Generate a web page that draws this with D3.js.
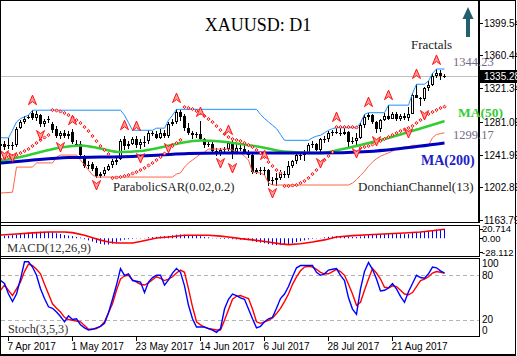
<!DOCTYPE html>
<html><head><meta charset="utf-8">
<script src="https://cdn.jsdelivr.net/npm/d3@7"></script>
<style>
html,body{margin:0;padding:0;background:#fff;}
svg{display:block;}
</style></head><body>
<svg id="c" width="517" height="356"></svg>
<script>
// ---------- DATA ----------
const startIndex = -2; // first bar index (bar 0 = 7 Apr 2017)
const opens = [1252,1255,1252,1254,1253,1274,1281,1286,1292,1286,1289,1279,
1283,1278,1272,1264,1268,1264,1269,1254,1255,1240,
1228,1231,1226,1216,1219,1224,1229,1233,1237,1260,
1252,1255,1261,1253,1257,1258,1268,1267,1262,1268,
1264,1279,1281,1293,1288,1274,1268,1265,1267,1261,
1254,1255,1246,1243,1247,1249,1256,1245,1250,1249,
1245,1242,1221,1224,1222,1224,1210,1212,1214,1219,
1217,1228,1234,1241,1242,1244,1254,1255,1248,1259,
1260,1268,1269,1268,1267,1269,1257,1258,1262,1277,
1287,1289,1281,1272,1283,1288,1285,1291,1284,1288,
1286,1291,1313,1310,1308,1321,1325,1336,1339,1336];
const highs = [1258,1258,1262,1257,1275,1283,1288,1289,1295,1294,1291,1285,
1288,1281,1276,1270,1271,1270,1272,1259,1258,1242,
1234,1233,1228,1221,1227,1231,1237,1238,1261,1264,
1258,1263,1264,1260,1264,1271,1270,1270,1272,1271,
1281,1285,1296,1295,1291,1280,1270,1269,1282,1262,
1257,1258,1250,1250,1251,1258,1259,1256,1256,1256,
1248,1243,1226,1227,1227,1225,1215,1220,1223,1222,
1234,1236,1244,1243,1247,1256,1258,1256,1262,1264,
1270,1271,1274,1274,1274,1270,1263,1268,1280,1290,
1292,1290,1282,1284,1292,1301,1293,1293,1291,1292,
1299,1315,1326,1311,1323,1330,1339,1344.23,1343,1338];
const lows = [1247,1248,1249,1248,1251,1272,1279,1285,1283,1282,1275,1275,
1280,1268,1262,1261,1262,1261,1255,1251,1238,1226,
1225,1222,1214,1214,1216,1222,1226,1230,1235,1248,
1249,1253,1250,1249,1251,1255,1264,1260,1260,1262,
1262,1276,1279,1282,1270,1265,1261,1262,1259,1250,
1251,1244,1240,1240,1243,1246,1237,1243,1246,1244,
1238,1219,1219,1218,1217,1205,1206,1205,1212,1214,
1214,1226,1231,1236,1234,1243,1250,1246,1245,1256,
1257,1264,1266,1264,1265,1251,1255,1252,1261,1274,
1283,1278,1268,1269,1282,1283,1284,1282,1282,1283,
1282,1290,1309,1300,1306,1318,1324,1333,1331,1333];
const closes = [1255,1251,1254,1253,1273,1281,1285,1287,1286,1290,1279,1282,
1285,1271,1264,1268,1264,1267,1257,1255,1241,1228,
1230,1225,1216,1219,1224,1228,1234,1236,1258,1252,
1255,1261,1253,1257,1256,1268,1267,1262,1268,1264,
1279,1281,1293,1287,1274,1268,1265,1267,1261,1254,
1255,1246,1243,1247,1249,1256,1245,1250,1249,1245,
1242,1221,1224,1222,1224,1210,1212,1214,1219,1217,
1228,1234,1241,1242,1244,1254,1255,1248,1260,1261,
1268,1269,1268,1267,1269,1257,1258,1262,1277,1287,
1289,1281,1272,1283,1288,1285,1291,1284,1288,1286,
1291,1313,1310,1308,1321,1325,1336,1339,1336,1335.28];

const lastPrice = 1335.28;

// Moving averages (bar index, value)
const ma50 = [[-2,1234.2],[3,1239],[8,1245],[13,1250.4],[16,1252.2],[18,1252.8],[21,1251],[23,1249.2],[28,1245],[33,1246.2],[38,1250.4],[43,1255.8],[48,1258.7],[53,1257.5],[58,1254.6],[63,1251],[68,1246.2],[73,1244.4],[78,1243.8],[83,1248],[88,1253.4],[93,1259.3],[98,1265.9],[103,1273.1],[109,1282]];
const ma200 = [[-2,1231.9],[5,1234.8],[15,1238.4],[23,1239],[31,1239.6],[38,1241.4],[45,1243.2],[53,1243.8],[63,1243.8],[77,1243.8],[90,1245.6],[98,1249.2],[109,1255.8]];

// Donchian channel (13)
const donchUpper = [[-2,1262],[0,1262],[1,1271],[2,1281],[3,1285],[4,1287],[5,1289],[6,1295],[28,1295],[29,1289],[30,1280],[31,1271],[36,1271],[37,1273.5],[39,1273.5],[40,1283],[41,1289],[42,1296],[62,1296],[63,1290],[64,1285],[65,1281],[66,1277],[67,1273],[68,1266],[69,1259],[75,1259],[76,1262],[77,1264],[78,1265],[79,1268],[80,1271],[81,1273],[82,1274],[87,1274],[88,1280],[89,1290],[90,1292],[94,1292],[95,1301],[100,1301],[101,1315],[102,1326],[104,1326],[105,1330],[106,1339],[107,1344.23],[109,1344.23]];
const donchLower = [[-2,1196],[1,1197],[2,1227],[6,1227],[7,1232],[11,1232],[12,1239],[13,1241.4],[17,1241.4],[18,1235.4],[19,1229.5],[20,1223.5],[21,1217.5],[22,1215.1],[41,1215.1],[42,1218.7],[43,1220],[44,1227],[45,1232],[46,1235.4],[47,1239],[48,1242.6],[49,1245],[50,1248.5],[55,1248.5],[56,1247.4],[57,1245],[58,1243.8],[59,1240.2],[60,1235.4],[61,1221],[63,1220],[64,1217.5],[65,1208],[66,1205.6],[85,1205.6],[86,1208],[87,1212],[88,1217],[89,1222],[90,1228],[91,1233],[92,1237],[93,1240],[94,1242],[95,1244],[96,1246],[97,1249],[98,1250],[99,1251],[100,1251],[101,1253],[105,1253],[106,1262],[107,1266],[108,1267],[109,1268]];

// Parabolic SAR (one value per bar from startIndex)
const sar = [1236.6,1237.8,1239.0,1240.2,1241.4,1243.8,1246.2,1248.6,1252.2,1255.8,1259.3,1262.3,
1265.3,1295.2,1294.6,1293.4,1291.6,1289.2,1286.2,1283.2,1279.7,1274.9,
1270.1,1264.1,1258.1,1252.2,1247.4,1242.6,1213.9,1214.5,1215.1,1216.3,
1217.5,1219.3,1221.1,1223.5,1225.9,1228.9,1231.9,1235.4,1239.0,1243.2,
1247.4,1252.2,1255.8,1259.3,1298.8,1297.6,1296.4,1294.0,1291.6,1288.0,
1284.4,1280.8,1276.1,1271.3,1266.5,1262.9,1260.5,1259.3,1258.1,1255.8,
1253.4,1251.0,1247.4,1243.8,1239.0,1233.1,1228.3,1223.5,1219.9,1204.4,
1204.4,1205.0,1205.6,1208.0,1210.4,1213.9,1218.7,1223.5,1230.7,1235.4,
1240.2,1245.0,1274.9,1274.9,1274.9,1274.9,1274.9,1274.3,1249.8,1251.0,
1252.2,1254.0,1255.8,1258.1,1260.5,1262.9,1265.3,1267.7,1270.1,1271.9,
1273.7,1276.1,1279.7,1283.2,1286.8,1290.4,1292.8,1295.2,1297.6,1299.17];

// Fractals
const fractalUpIdx = [6,16,29,32,42,48,55,64,82,90,95,102,107];
const fractalUpVal = [1307,1283,1277,1276,1309.5,1292.8,1271.3,1241.4,1286.8,1304.7,1313,1338.2,1355];
const fractalDownIdx = [-1,1,8,13,22,33,40,53,56,66,78,87,92,100,104];
const fractalDownVal = [1241.4,1239,1265.3,1251,1205.6,1237.8,1249.8,1231.9,1225.9,1196,1231.9,1243.8,1258.1,1267.7,1289.2];

// MACD (12,26,9): main as histogram (per bar), signal line points
const macdMain = [4.5,5,5.5,6.5,7.5,9.5,10.5,12,13,13.5,14,14,
13.5,12.5,10.5,9,7,5.5,4.5,3,1.5,-2,
-4.5,-7,-10,-12,-13.5,-13.5,-11.5,-9,-5,-3,
-2,-1.2,-0.6,-0.6,0.6,2,2.5,3,3.8,4.4,
5,6.2,7.5,8,7.5,7,6.2,5,4.4,3,
2,0.6,-0.6,-1.2,-1.5,-1.2,-2,-2.5,-3,-3.5,
-4,-6.2,-8,-9.4,-10.5,-12.5,-13.8,-14.5,-14.5,-13.8,
-12.5,-10.5,-8,-6.2,-4.4,-2.5,-1.2,-0.6,0.6,2,
3,3.8,4.4,4.4,4.4,3,2.5,2.5,3.8,5.6,
7.5,8,7.5,8,8.8,9.4,9.4,8.8,8.8,8.8,
8.8,11,13,14,15,16,17.5,18.5,19.2,20];
const macdSignal = [[-2,7],[2,9],[6,11.5],[10,13.2],[14,13.4],[16,12],[19,6.4],[21,1],[23,-4],[25,-8],[27,-10],[31,-10],[33,-7],[35,-3],[37,0.5],[40,2.8],[44,6.4],[50,6.4],[53,4.5],[55,2.8],[58,-0.8],[61,-3.5],[65,-7.9],[68,-12],[70,-13.6],[73,-11.8],[76,-8],[79,-3.5],[82,2.8],[86,5.5],[90,7.6],[95,9.5],[99,11.3],[103,13.4],[107,17],[109,19]];

// Stochastic (3,5,3)
const stochMain = [73,69,55,45,55,75,98,98,91,80,62,49,
38,36,31,25,18,26,21,22,14,10,
7,8,10,12,16,30,48,67,89,80,
82,73,72,71,57,71,77,80,80,67,
74,83,89,84,66,40,22,11,11,11,
9,7,4,9,35,48,55,53,50,48,
35,22,10,12,18,22,24,36,49,55,
65,78,90,93,93,93,93,84,80,82,
87,88,89,80,73,50,35,28,62,85,
97,88,75,59,60,63,69,62,52,44,
58,69,80,77,76,82,91,90,86,83];
const stochSignal = [60,67,60,53,62,71,85,95,93,88,82,68,
55,42,36,31,24,21,20,19,18,13,
8,8,9,12,18,30,42,60,75,79,
80,74,71,68,67,70,74,78,76,73,
75,78,83,87,84,62,38,18,14,11,
9,8,7,7,20,34,48,52,53,51,
49,35,18,16,18,20,23,29,36,45,
55,68,78,86,91,92,91,88,84,82,
82,85,88,85,80,68,55,40,44,60,
75,89,83,75,64,63,66,65,60,55,
54,57,65,73,75,78,83,85,84,83];

// Axis ticks
const dateTickIdx = [0,16,32,48,64,80,96];
const dateTickLabels = ["7 Apr 2017","1 May 2017","23 May 2017","14 Jun 2017","6 Jul 2017","28 Jul 2017","21 Aug 2017"];
const priceTicks = [1399.54,1360.44,1321.34,1281.09,1241.99,1202.89,1163.79];
const macdTicks = [20.714,0,-28.112];
const macdTickLabels = ["20.714","0.00","-28.112"];
const stochTicks = [100,80,20,0];
const stochLevels = [80,20];

// ---------- DRAW ----------
const svg = d3.select("#c");
const x = d3.scaleLinear().domain([0,96]).range([8,392]);
const yP = d3.scaleLinear().domain([1163.79,1399.54]).range([220,22.7]);
const yM = d3.scaleLinear().domain([-28.112,20.714]).range([251.5,228.5]);
const yS = d3.scaleLinear().domain([0,100]).range([335.3,260.3]);
const AX = 479; // right axis line
const serif = "'Liberation Serif','Times New Roman',serif";
const sans = "'Liberation Sans',Arial,sans-serif";

svg.append("rect").attr("width",517).attr("height",356).attr("fill","#fff");

const defs = svg.append("defs");
defs.append("clipPath").attr("id","cpMain").append("rect").attr("x",1).attr("y",1).attr("width",AX-1).attr("height",221);
defs.append("clipPath").attr("id","cpMacd").append("rect").attr("x",1).attr("y",226).attr("width",AX-1).attr("height",30);
defs.append("clipPath").attr("id","cpStoch").append("rect").attr("x",1).attr("y",259).attr("width",AX-1).attr("height",77);

const bars = opens.map((o,k)=>({i:k+startIndex,o:o,h:highs[k],l:lows[k],c:closes[k]}));

// ---- Main panel ----
const gm = svg.append("g").attr("clip-path","url(#cpMain)").attr("shape-rendering","crispEdges");

// current price line
gm.append("line").attr("x1",1).attr("x2",AX).attr("y1",Math.round(yP(lastPrice))+0.5).attr("y2",Math.round(yP(lastPrice))+0.5)
  .attr("stroke","#c0c0c0").attr("stroke-width",1);

// candles
const gc = gm.append("g");
bars.forEach(b=>{
  const cx = Math.round(x(b.i));
  const yh = Math.round(yP(b.h)), yl = Math.round(yP(b.l));
  gc.append("rect").attr("x",cx).attr("y",yh).attr("width",1).attr("height",Math.max(1,yl-yh)).attr("fill","#000");
  const top = Math.round(yP(Math.max(b.o,b.c))), bot = Math.round(yP(Math.min(b.o,b.c)));
  const hgt = Math.max(1,bot-top);
  gc.append("rect").attr("x",cx-1).attr("y",top).attr("width",3).attr("height",hgt).attr("fill","#000");
  if (b.c > b.o && hgt > 2) {
    gc.append("rect").attr("x",cx).attr("y",top+1).attr("width",1).attr("height",hgt-2).attr("fill","#fff");
  }
});

const gl = svg.append("g").attr("clip-path","url(#cpMain)");
const lineP = d3.line().x(d=>x(d[0])+0.5).y(d=>yP(d[1]));
gl.append("path").attr("d",lineP(donchUpper)).attr("fill","none").attr("stroke","#1e90ff").attr("stroke-width",1);
gl.append("path").attr("d",lineP(donchLower)).attr("fill","none").attr("stroke","#ff6347").attr("stroke-width",1);
const lineS = d3.line().x(d=>x(d[0])+0.5).y(d=>yP(d[1])).curve(d3.curveMonotoneX);
gl.append("path").attr("d",lineS(ma50)).attr("fill","none").attr("stroke","#32cd32").attr("stroke-width",2.6);
gl.append("path").attr("d",lineS(ma200)).attr("fill","none").attr("stroke","#0000c0").attr("stroke-width",3);

// SAR dots
sar.forEach((v,k)=>{
  const cx = x(k+startIndex)+0.5, cy = yP(v);
  gl.append("path").attr("d",`M${cx},${cy-1.6}L${cx+1.6},${cy}L${cx},${cy+1.6}L${cx-1.6},${cy}Z`)
    .attr("fill","#ffc0c0").attr("stroke","#ff0000").attr("stroke-width",0.9);
});

// Fractal arrows
function arrow(cx,cy,up){
  const s = up ? 1 : -1;
  return `M${cx},${cy-5*s}L${cx+4},${cy+4.5*s}L${cx},${cy+1.5*s}L${cx-4},${cy+4.5*s}Z`;
}
fractalUpIdx.forEach((i,k)=>{
  gl.append("path").attr("d",arrow(x(i)+0.5,yP(fractalUpVal[k]),true)).attr("fill","#ff9c9c").attr("stroke","#ff1010").attr("stroke-width",1);
});
fractalDownIdx.forEach((i,k)=>{
  gl.append("path").attr("d",arrow(x(i)+0.5,yP(fractalDownVal[k]),false)).attr("fill","#ff9c9c").attr("stroke","#ff1010").attr("stroke-width",1);
});

// ---- MACD panel ----
const gmc = svg.append("g").attr("clip-path","url(#cpMacd)");
macdMain.forEach((v,k)=>{
  const cx = Math.round(x(k+startIndex))+0.5;
  gmc.append("line").attr("x1",cx).attr("x2",cx).attr("y1",yM(0)).attr("y2",yM(v)).attr("stroke","#0000ff").attr("stroke-width",1);
});
gmc.append("path").attr("d",d3.line().x(d=>x(d[0])+0.5).y(d=>yM(d[1]))(macdSignal))
  .attr("fill","none").attr("stroke","#ff0000").attr("stroke-width",1.6);

// ---- Stoch panel ----
const gst = svg.append("g").attr("clip-path","url(#cpStoch)");
stochLevels.forEach(v=>{
  gst.append("line").attr("x1",1).attr("x2",AX).attr("y1",Math.round(yS(v))+0.5).attr("y2",Math.round(yS(v))+0.5)
    .attr("stroke","#b4b4b4").attr("stroke-dasharray","4,3").attr("stroke-width",1);
});
const lineSt = d3.line().x((d,k)=>x(k+startIndex)+0.5).y(d=>yS(d));
gst.append("path").attr("d",lineSt(stochSignal)).attr("fill","none").attr("stroke","#ff0000").attr("stroke-width",1.4);
gst.append("path").attr("d",lineSt(stochMain)).attr("fill","none").attr("stroke","#0000ff").attr("stroke-width",1.4);

// ---- Frames ----
const fr = svg.append("g").attr("fill","none").attr("stroke","#000").attr("shape-rendering","crispEdges");
fr.append("rect").attr("x",0.5).attr("y",0.5).attr("width",515).attr("height",354.5).attr("stroke-width",1.2);
fr.append("line").attr("x1",0).attr("x2",AX+1).attr("y1",222.5).attr("y2",222.5);
fr.append("line").attr("x1",AX).attr("x2",AX).attr("y1",0).attr("y2",223).attr("stroke-width",2);
fr.append("rect").attr("x",0.5).attr("y",225.5).attr("width",AX).attr("height",31);
fr.append("rect").attr("x",0.5).attr("y",258.5).attr("width",AX).attr("height",78);

// ---- Axes ----
const ax = svg.append("g").attr("font-family",sans).attr("font-size","10px").attr("fill","#000");
priceTicks.forEach(v=>{
  const yy = Math.round(yP(v));
  ax.append("line").attr("x1",AX).attr("x2",AX+4).attr("y1",yy+0.5).attr("y2",yy+0.5).attr("stroke","#000").attr("shape-rendering","crispEdges");
  ax.append("text").attr("x",AX+5).attr("y",yy+4).text(v.toFixed(2));
});
// current price box
const yl = yP(lastPrice);
ax.append("rect").attr("x",AX).attr("y",Math.round(yl)-6).attr("width",40).attr("height",13).attr("fill","#000");
ax.append("text").attr("x",AX+5).attr("y",Math.round(yl)+4).attr("fill","#fff").text(lastPrice.toFixed(2));

const axm = svg.append("g").attr("font-family",sans).attr("font-size","9.5px").attr("fill","#000");
macdTicks.forEach((v,k)=>{
  const yy = yM(v);
  axm.append("line").attr("x1",AX+1).attr("x2",AX+4).attr("y1",Math.round(yy)+0.5).attr("y2",Math.round(yy)+0.5).attr("stroke","#000").attr("shape-rendering","crispEdges");
  axm.append("text").attr("x",AX+3).attr("y",yy+(k===0?3.5:4)).text(macdTickLabels[k]);
});
stochTicks.forEach(v=>{
  let yy = yS(v);
  if (v===100) yy += 3; if (v===0) yy -= 5; if (v===20) yy -= 1;
  ax.append("text").attr("x",AX+3).attr("y",yy+4).text(String(v));
});
dateTickIdx.forEach((i,k)=>{
  const cx = Math.round(x(i))+0.5;
  ax.append("line").attr("x1",cx).attr("x2",cx).attr("y1",337).attr("y2",341).attr("stroke","#000").attr("shape-rendering","crispEdges");
  ax.append("text").attr("x",cx-1).attr("y",350).text(dateTickLabels[k]);
});

// ---- Labels ----
const lb = svg.append("g").attr("font-family",serif);
lb.append("text").attr("x",258).attr("y",31).attr("text-anchor","middle").attr("font-size","18px").attr("fill","#000").text("XAUUSD: D1");
lb.append("text").attr("x",411).attr("y",49).attr("font-size","13px").attr("fill","#222").text("Fractals");
lb.append("text").attr("x",453).attr("y",yP(1344.23)-3).attr("font-size","12.5px").attr("fill","#756a85").text("1344.23");
lb.append("text").attr("x",458).attr("y",117).attr("font-size","13.5px").attr("font-weight","bold").attr("fill","#33cc33").text("MA(50)");
lb.append("text").attr("x",453).attr("y",139).attr("font-size","12.5px").attr("fill","#756a85").text("1299.17");
lb.append("text").attr("x",421).attr("y",165).attr("font-size","14px").attr("font-weight","bold").attr("fill","#2020c8").text("MA(200)");
lb.append("text").attr("x",358).attr("y",191).attr("font-size","13px").attr("fill","#222").text("DonchianChannel(13)");
lb.append("text").attr("x",113).attr("y",191).attr("font-size","12.6px").attr("fill","#222").text("ParabolicSAR(0.02,0.2)");
lb.append("text").attr("x",7).attr("y",252).attr("font-size","12.6px").attr("fill","#333").text("MACD(12,26,9)");
lb.append("text").attr("x",8).attr("y",333).attr("font-size","12.2px").attr("fill","#333").text("Stoch(3,5,3)");

// big teal arrow
const ta = svg.append("g").attr("fill","#22606e");
ta.append("rect").attr("x",466).attr("y",18).attr("width",4).attr("height",19);
ta.append("path").attr("d","M468,7L473.5,19L462.5,19Z");
</script>
</body></html>
